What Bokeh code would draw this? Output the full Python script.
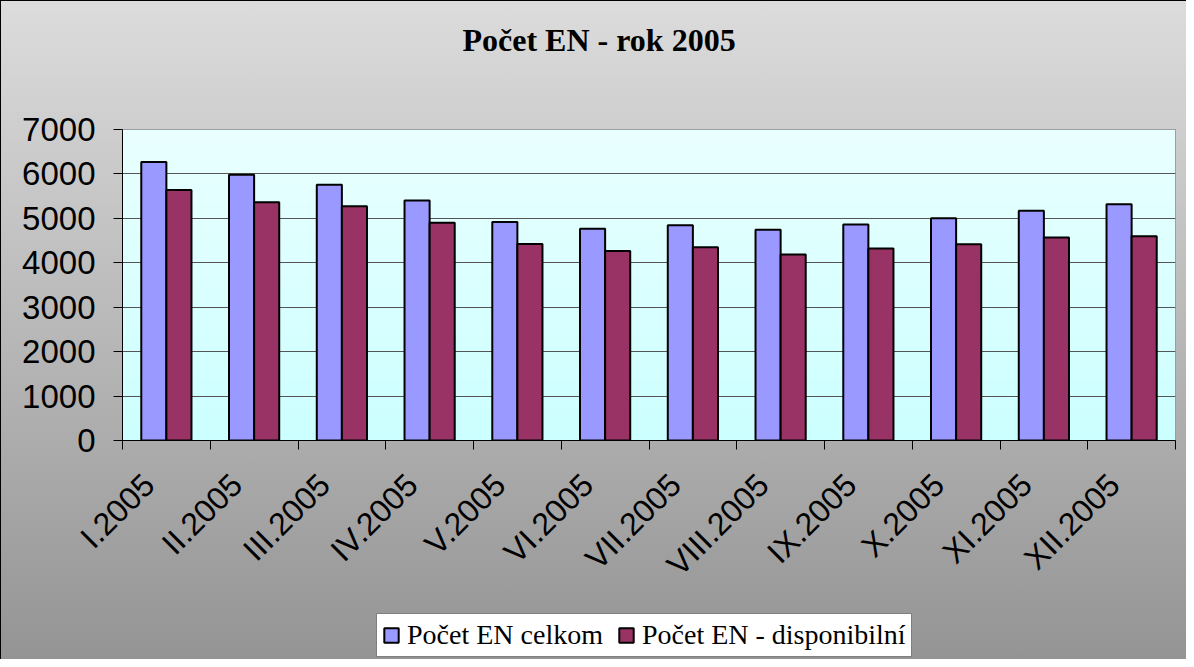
import numpy as np
from math import pi
from bokeh.plotting import figure
from bokeh.layouts import column
from bokeh.models import (ColumnDataSource, Range1d, FixedTicker, Legend, LegendItem, Title)
from bokeh.transform import dodge
from bokeh.embed import file_html
from bokeh.resources import INLINE

# ---- data ----
months = ["I.2005", "II.2005", "III.2005", "IV.2005", "V.2005", "VI.2005",
          "VII.2005", "VIII.2005", "IX.2005", "X.2005", "XI.2005", "XII.2005"]
celkom = [6270, 5980, 5755, 5400, 4920, 4765, 4845, 4745, 4860, 5000, 5170, 5320]
disponibilni = [5640, 5365, 5275, 4900, 4425, 4265, 4350, 4185, 4320, 4420, 4570, 4600]
y_ticks = [0, 1000, 2000, 3000, 4000, 5000, 6000, 7000]
series_names = ["Počet EN celkom", "Počet EN - disponibilní"]
title_text = "Počet EN - rok 2005"

n = len(months)
centers = [i + 0.5 for i in range(n)]
label_pos = [c - 0.2 for c in centers]
bounds = [float(i) for i in range(n + 1)]

source = ColumnDataSource(dict(x=centers, celkom=celkom, disp=disponibilni))

W = 1186
H_TITLE, H_MAIN, H_LEG = 95, 515, 49

def transparent(fig):
    fig.border_fill_alpha = 0
    fig.background_fill_alpha = 0

# ---- title strip ----
pt = figure(width=W, height=H_TITLE, output_backend="svg", toolbar_location=None,
            x_axis_location=None, y_axis_location=None, min_border=0,
            x_range=Range1d(0, 1), y_range=Range1d(0, 1))
transparent(pt)
pt.outline_line_color = None
pt.grid.visible = False
pt.title = Title(text=title_text, align="left", offset=340, standoff=42,
                 vertical_align="top",
                 text_font="Liberation Serif", text_font_style="bold",
                 text_font_size="32px", text_color="black")

# ---- main chart ----
p = figure(width=W, height=H_MAIN, output_backend="svg", toolbar_location=None,
           x_range=Range1d(0, n), y_range=Range1d(0, 7000),
           min_border_left=122, min_border_right=11, min_border_top=34,
           min_border_bottom=170)
transparent(p)
p.outline_line_color = "#808080"
p.outline_line_width = 1

rows = 120
t = np.linspace(0, 1, rows)  # bottom -> top
img = np.zeros((rows, 1), dtype=np.uint32)
view = img.view(dtype=np.uint8).reshape((rows, 1, 4))
view[:, 0, 0] = (0xCC + (0xEA - 0xCC) * t).astype(np.uint8)
view[:, 0, 1] = 255
view[:, 0, 2] = 255
view[:, 0, 3] = 255
p.image_rgba(image=[img], x=0, y=0, dw=n, dh=7000, level="image")

bw = 0.286
p.vbar(x=dodge("x", -0.143, range=p.x_range), top="celkom", width=bw, source=source,
       fill_color="#9999FF", line_color="black", line_width=2)
p.vbar(x=dodge("x", 0.143, range=p.x_range), top="disp", width=bw, source=source,
       fill_color="#993366", line_color="black", line_width=2)

xa = p.xaxis[0]
ya = p.yaxis[0]

ya.ticker = FixedTicker(ticks=y_ticks)
ya.major_label_text_font = "Liberation Sans"
ya.major_label_text_font_size = "33px"
ya.major_label_text_color = "black"
ya.major_tick_out = 9
ya.major_tick_in = 0
ya.minor_tick_line_color = None
ya.major_label_standoff = 18
ya.axis_line_color = "black"
ya.major_tick_line_color = "black"

xa.ticker = FixedTicker(ticks=label_pos, minor_ticks=bounds)
xa.major_label_overrides = {c: m for c, m in zip(label_pos, months)}
xa.major_label_orientation = pi / 4
xa.major_label_text_font = "Liberation Sans"
xa.major_label_text_font_size = "32px"
xa.major_label_text_color = "black"
xa.major_tick_line_color = None
xa.minor_tick_line_color = "black"
xa.minor_tick_out = 9
xa.minor_tick_in = 0
xa.major_label_standoff = 30
xa.axis_line_color = "black"

p.xgrid.visible = False
p.ygrid.ticker = FixedTicker(ticks=y_ticks)
p.ygrid.grid_line_color = "#555555"
p.ygrid.grid_line_width = 1

# ---- legend strip (its tiny bar renderers sit hidden behind the legend box) ----
pl = figure(width=W, height=H_LEG, output_backend="svg", toolbar_location=None,
            x_axis_location=None, y_axis_location=None, min_border=0,
            x_range=Range1d(-5.7, 17.8), y_range=Range1d(-40000, 200000))
transparent(pl)
pl.outline_line_color = None
pl.grid.visible = False
l1 = pl.vbar(x="x", top="celkom", width=bw, source=source,
             fill_color="#9999FF", line_color="black", line_width=2)
l2 = pl.vbar(x="x", top="disp", width=bw, source=source,
             fill_color="#993366", line_color="black", line_width=2)
legend = Legend(items=[LegendItem(label=series_names[0], renderers=[l1]),
                       LegendItem(label=series_names[1], renderers=[l2])],
                location=(254, 2), orientation="horizontal",
                label_text_font="Liberation Serif", label_text_font_size="28px",
                label_text_color="black",
                glyph_width=18, glyph_height=18, label_standoff=7, spacing=14,
                padding=5, margin=0,
                border_line_color="black", border_line_width=1,
                background_fill_color="white", background_fill_alpha=1)
pl.add_layout(legend, "center")

layout = column(pt, p, pl, spacing=0)
layout.styles = {"background-image": "linear-gradient(#DCDCDC, #949494)",
                 "box-shadow": "inset 1px 1px 0 #000000"}

open("out.html", "w").write(file_html(layout, INLINE))
